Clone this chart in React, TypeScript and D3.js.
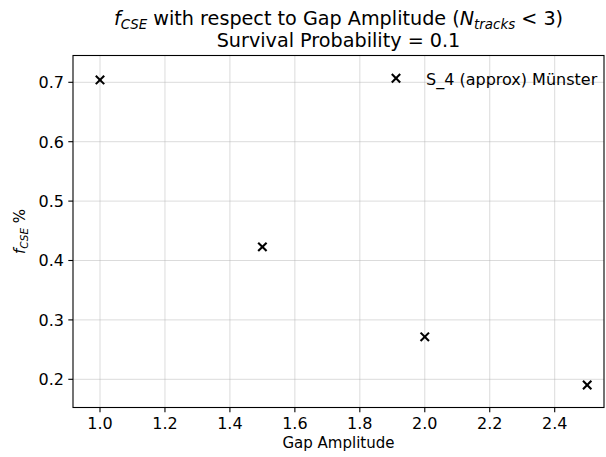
import React from "react";
import * as d3 from "d3";

const gapAmplitude = [1.0, 1.5, 2.0, 2.5];
const fCSE = [0.704, 0.423, 0.2715, 0.1905];
const xTickValues = [1.0, 1.2, 1.4, 1.6, 1.8, 2.0, 2.2, 2.4];
const yTickValues = [0.2, 0.3, 0.4, 0.5, 0.6, 0.7];
const legendLabel = "S_4 (approx) Münster";

const W = 606;
const H = 457;
const left = 73;
const right = 604;
const top = 55.5;
const bottom = 407.5;

export default function App() {
  const x = d3.scaleLinear().domain([1.0, 2.4]).range([100, 554.7]);
  const y = d3.scaleLinear().domain([0.2, 0.7]).range([379.3, 82.3]);
  const font = "'DejaVu Sans', sans-serif";
  const fs = 16;
  const cx = (left + right) / 2;
  const cy = (top + bottom) / 2;
  const marker = (px: number, py: number, key: string) => {
    const s = 4.2;
    return (
      <g key={key}>
        <line x1={px - s} y1={py - s} x2={px + s} y2={py + s} stroke="#000" strokeWidth={2.1} />
        <line x1={px - s} y1={py + s} x2={px + s} y2={py - s} stroke="#000" strokeWidth={2.1} />
      </g>
    );
  };
  return (
    <svg width={W} height={H} style={{ position: "absolute", left: 0, top: 0, background: "#fff" }} fontFamily={font}>
      <rect x={0} y={0} width={W} height={H} fill="#fff" />
      {/* grid */}
      {xTickValues.map((t) => (
        <line key={"gx" + t} x1={x(t)} x2={x(t)} y1={top} y2={bottom} stroke="#b0b0b0" strokeOpacity={0.45} strokeWidth={1} />
      ))}
      {yTickValues.map((t) => (
        <line key={"gy" + t} x1={left} x2={right} y1={y(t)} y2={y(t)} stroke="#b0b0b0" strokeOpacity={0.45} strokeWidth={1} />
      ))}
      {/* points */}
      {gapAmplitude.map((g, i) => marker(x(g), y(fCSE[i]), "p" + i))}
      {/* spines */}
      <rect x={left} y={top} width={right - left} height={bottom - top} fill="none" stroke="#000" strokeWidth={1.1} />
      {/* x ticks */}
      {xTickValues.map((t) => (
        <g key={"xt" + t}>
          <line x1={x(t)} x2={x(t)} y1={bottom} y2={bottom + 4.7} stroke="#000" strokeWidth={1.1} />
          <text x={x(t)} y={bottom + 21} textAnchor="middle" fontSize={fs} fill="#000">
            {t.toFixed(1)}
          </text>
        </g>
      ))}
      {/* y ticks */}
      {yTickValues.map((t) => (
        <g key={"yt" + t}>
          <line x1={left - 4.7} x2={left} y1={y(t)} y2={y(t)} stroke="#000" strokeWidth={1.1} />
          <text x={left - 9} y={y(t) + 5.8} textAnchor="end" fontSize={fs} fill="#000">
            {t.toFixed(1)}
          </text>
        </g>
      ))}
      {/* x label */}
      <text x={cx} y={448} textAnchor="middle" fontSize={15} fill="#000">
        Gap Amplitude
      </text>
      {/* y label */}
      <text transform={`translate(25,${cy}) rotate(-90)`} textAnchor="middle" fontSize={15} fill="#000">
        <tspan fontStyle="italic">f</tspan>
        <tspan fontStyle="italic" fontSize={10.5} dy={3}>CSE</tspan>
        <tspan dy={-3}> %</tspan>
      </text>
      {/* title */}
      <text x={cx} y={25} textAnchor="middle" fontSize={19.2} fill="#000">
        <tspan fontStyle="italic">f</tspan>
        <tspan fontStyle="italic" fontSize={13.4} dy={3.5}>CSE</tspan>
        <tspan dy={-3.5}> with respect to Gap Amplitude (</tspan>
        <tspan fontStyle="italic">N</tspan>
        <tspan fontStyle="italic" fontSize={13.4} dy={3.5}>tracks</tspan>
        <tspan dy={-3.5}> &lt; 3)</tspan>
      </text>
      <text x={cx} y={47} textAnchor="middle" fontSize={19.2} fill="#000">
        Survival Probability = 0.1
      </text>
      {/* legend */}
      {marker(396, 78.3, "leg")}
      <text x={426} y={84.5} fontSize={fs} fill="#000">
        {legendLabel}
      </text>
    </svg>
  );
}
